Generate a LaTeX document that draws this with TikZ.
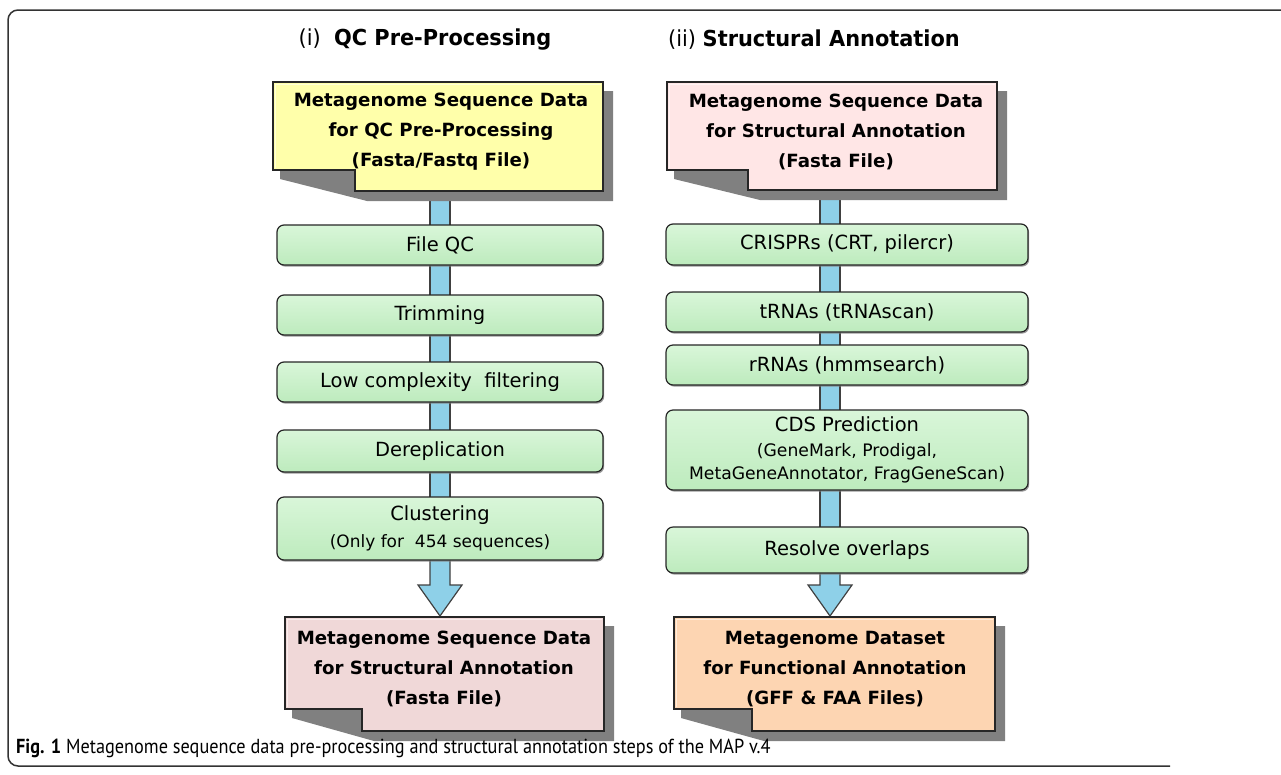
\documentclass[tikz,border=0pt]{standalone}
\usepackage{fontspec}
\setmainfont{DejaVu Sans}
\newfontfamily\capfont{PT Sans}
\usetikzlibrary{shadows,calc}
\pgfdeclarelayer{background}
\pgfsetlayers{background,main}
\definecolor{gtop}{HTML}{D9F6D9}
\definecolor{gbot}{HTML}{BDEBBD}
\definecolor{docyellow}{HTML}{FFFFAA}
\definecolor{docpink}{HTML}{FFE6E6}
\definecolor{docmauve}{HTML}{F0D8D8}
\definecolor{docpeach}{HTML}{FDD5B2}
\definecolor{stemblue}{HTML}{8ED0E8}
\definecolor{shadowgray}{HTML}{808080}
\definecolor{frameline}{HTML}{333333}
\newcommand\mydoc[7]{%
  \fill[shadowgray] (#1+7,#6) -- (#1+7,#6+9) -- (#5+12,#4+10) -- (#3+10,#4+10) -- (#3+10,#2+9) -- (#3,#2+9) -- (#3,#4) -- (#5,#4) -- (#5,#6) -- cycle;
  \filldraw[docline, fill=#7] (#1,#2) -- (#3,#2) -- (#3,#4) -- (#5,#4) -- (#5,#6) -- (#1,#6) -- cycle;
  \draw[white, opacity=0.55, line width=1.2pt] (#1+2.5,#6-2.5) -- (#1+2.5,#2+2.5) -- (#3-2.5,#2+2.5);
}
\begin{document}
\begin{tikzpicture}[x=1pt,y=-1pt,
  gbox/.style={draw=black!85, line width=1.2pt, rounded corners=7pt, top color=gtop, bottom color=gbot,
    align=center, inner sep=0pt, font=\fontsize{19.5}{27}\selectfont,
    drop shadow={shadow xshift=1.2pt, shadow yshift=-1.6pt, fill=black!50, opacity=0.8}},
  doctext/.style={align=center, inner sep=0pt, font=\fontsize{18.2}{30}\selectfont\bfseries},
  docline/.style={draw=black!85, line width=1.3pt},
  stem/.style={draw=black!75, line width=1.2pt, fill=stemblue},
  title/.style={inner sep=0pt, font=\fontsize{22}{25}\selectfont},
]
\useasboundingbox (0,0) rectangle (1281,774);
% frame
\draw[frameline, line width=1.5pt, rounded corners=10pt] (1282,10) -- (8,10) -- (8,766) -- (1170,766);

% titles
\node[title] (t1) at (425,40) {\scalebox{0.95}[1]{(i)\ \ \textbf{QC Pre-Processing}}};
\node[title] (t2) at (814,40) {\scalebox{0.95}[1]{(ii) \textbf{Structural Annotation}}};

% documents
\mydoc{273}{82}{603}{191}{355}{170}{docyellow}
\node[doctext] (d1) at (441,132) {Metagenome Sequence Data\\for QC Pre-Processing\\(Fasta/Fastq File)};
\mydoc{667}{82}{997}{190}{748}{170}{docpink}
\node[doctext] (d2) at (836,132) {Metagenome Sequence Data\\for Structural Annotation\\(Fasta File)};
\mydoc{285}{617}{604}{731}{362}{709}{docmauve}
\node[doctext] (d3) at (444,669) {Metagenome Sequence Data\\for Structural Annotation\\(Fasta File)};
\mydoc{674}{617}{995}{731}{752}{709}{docpeach}
\node[doctext] (d4) at (835,669) {Metagenome Dataset\\for Functional Annotation\\(GFF \& FAA Files)};

% anchor coordinates for stems
\coordinate (ltop) at (440,190);
\coordinate (lbot) at (440,616);
\coordinate (rtop) at (830,189);
\coordinate (rbot) at (830,616);

% green boxes
\node[gbox, minimum width=326pt, minimum height=40pt] (a1) at (440,245) {File QC};
\node[gbox, minimum width=326pt, minimum height=40pt] (a2) at (440,315) {Trimming};
\node[gbox, minimum width=326pt, minimum height=40pt] (a3) at (440,382) {Low complexity\ \ filtering};
\node[gbox, minimum width=326pt, minimum height=42pt] (a4) at (440,451) {Dereplication};
\node[gbox, minimum width=326pt, minimum height=63pt] (a5) at (440,528.5) {Clustering\\\fontsize{17}{27}\selectfont(Only for\ \ 454 sequences)};
\node[gbox, minimum width=362pt, minimum height=41pt] (b1) at (847,244.5) {CRISPRs (CRT, pilercr)};
\node[gbox, minimum width=362pt, minimum height=40pt] (b2) at (847,312) {tRNAs (tRNAscan)};
\node[gbox, minimum width=362pt, minimum height=40pt] (b3) at (847,365) {rRNAs (hmmsearch)};
\node[gbox, minimum width=362pt, minimum height=80pt] (b4) at (847,450) {CDS Prediction\\[-2pt]\fontsize{17.2}{22}\selectfont(GeneMark, Prodigal,\\[-4pt]\fontsize{17.2}{22}\selectfont MetaGeneAnnotator, FragGeneScan)};
\node[gbox, minimum width=362pt, minimum height=46pt] (b5) at (847,550) {Resolve overlaps};

% stems and arrows (behind)
\begin{pgfonlayer}{background}
  \filldraw[stem] ($(ltop)+(-10,0)$) rectangle ($(a5.south -| ltop)+(10,-4)$);
  \filldraw[stem] ($(a5.south -| lbot)+(-10,-4)$) -- ($(lbot)+(-10,-31)$) -- ($(lbot)+(-22,-31)$) -- (lbot)
     -- ($(lbot)+(22,-31)$) -- ($(lbot)+(10,-31)$) -- ($(a5.south -| lbot)+(10,-4)$);
  \filldraw[stem] ($(rtop)+(-10,0)$) rectangle ($(b5.south -| rtop)+(10,-4)$);
  \filldraw[stem] ($(b5.south -| rbot)+(-10,-4)$) -- ($(rbot)+(-10,-31)$) -- ($(rbot)+(-22,-31)$) -- (rbot)
     -- ($(rbot)+(22,-31)$) -- ($(rbot)+(10,-31)$) -- ($(b5.south -| rbot)+(10,-4)$);
\end{pgfonlayer}

% caption
\node[anchor=west, inner sep=0pt] (cap) at (16,748) {\scalebox{0.9}[1]{\capfont\fontsize{20.3}{22}\selectfont\textbf{Fig. 1} Metagenome sequence data pre-processing and structural annotation steps of the MAP v.4}};
\end{tikzpicture}
\end{document}
